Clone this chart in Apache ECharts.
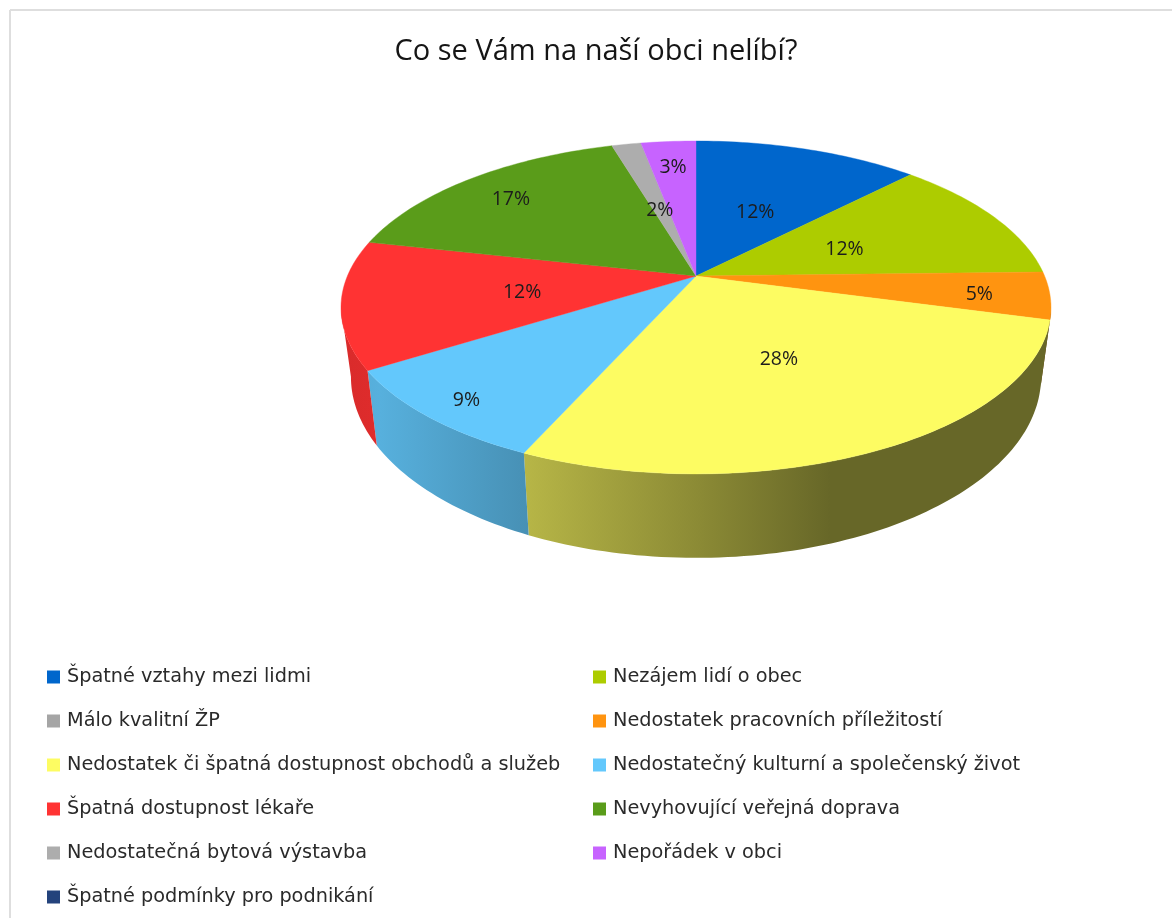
<!DOCTYPE html>
<html><head><meta charset="utf-8">
<style>html,body{margin:0;padding:0;background:#fff}#c{width:1172px;height:918px}</style>
<script src="https://cdn.jsdelivr.net/npm/echarts@6/dist/echarts.min.js"></script>
</head><body><div id="c"></div>
<script>
const titleText = 'Co se Vám na naší obci nelíbí?';
const categories = ['Špatné vztahy mezi lidmi','Nezájem lidí o obec','Málo kvalitní ŽP','Nedostatek pracovních příležitostí','Nedostatek či špatná dostupnost obchodů a služeb','Nedostatečný kulturní a společenský život','Špatná dostupnost lékaře','Nevyhovující veřejná doprava','Nedostatečná bytová výstavba','Nepořádek v obci','Špatné podmínky pro podnikání'];
const shares = [12.3,12.3,0,4.6,27.5,9.4,12.4,16.9,1.6,3.0,0];
const colors = ['#0066cc','#adcc00','#a5a5a5','#ff9410','#fdfc62','#63c8fc','#ff3333','#5a9c1a','#adadad','#c763ff','#24437c'];
const labelDepth = [.53,.5,0,.8,.46,.86,.49,.82,.52,.83,0];

const FONT = '"Open Sans", sans-serif';
const LEGEND_FONT = '"DejaVu Sans", sans-serif';
const CX=696, CY=276, RX=348.6, RY=160.5, K=.189;
const total = shares.reduce((a,b)=>a+b,0);
const starts = shares.map((_,i)=>shares.slice(0,i).reduce((a,b)=>a+b,0)/total*Math.PI*2);
const ends = starts.map((s,i)=>s+shares[i]/total*Math.PI*2);
function rim(t,f){const d=1+K*Math.cos(t);return [CX+f*RX*Math.sin(t)/d, CY-f*RY*Math.cos(t)/d];}
function low(p){return [CX+.972*(p[0]-CX), 42.5+1.0875*p[1]];}
function arc(a,b){const n=Math.max(2,Math.ceil(Math.abs(b-a)/0.02));const o=[];for(let i=0;i<=n;i++)o.push(rim(a+(b-a)*i/n,1));return o;}
const shadeStops=[[340,.85],[380,.88],[520,.73],[700,.55],[830,.41],[1060,.41]];
function sideFill(hex){
  const n=parseInt(hex.slice(1),16),r=n>>16,g=(n>>8)&255,b=n&255;
  const x0=shadeStops[0][0],x1=shadeStops[shadeStops.length-1][0];
  return {type:'linear',global:true,x:x0,y:0,x2:x1,y2:0,colorStops:shadeStops.map(s=>({offset:(s[0]-x0)/(x1-x0),color:`rgb(${r*s[1]|0},${g*s[1]|0},${b*s[1]|0})`}))};
}
const SIDE_FROM=Math.acos(-K), SIDE_TO=2*Math.PI-SIDE_FROM;
const series=[];
series.push({type:'custom',name:'side',coordinateSystem:'none',silent:true,z:1,data:shares.map(v=>[v]),
  renderItem(p){
    const i=p.dataIndex;
    const a=Math.max(starts[i],SIDE_FROM),b=Math.min(ends[i],SIDE_TO);
    if(!(b>a))return null;
    const top=arc(a,b);
    const pts=top.concat(top.slice().reverse().map(low));
    return {type:'polygon',shape:{points:pts},style:{fill:sideFill(colors[i]),stroke:null}};
  }});
categories.forEach((name,i)=>{
  series.push({type:'custom',name,coordinateSystem:'none',silent:true,z:2,
    itemStyle:{color:colors[i]},data:[[shares[i]]],
    renderItem(p,api){
      if(!(api.value(0)>0))return null;
      return {type:'polygon',shape:{points:[[CX,CY]].concat(arc(starts[i],ends[i]))},
        style:{fill:colors[i],stroke:colors[i],lineWidth:.4}};
    }});
});
series.push({type:'custom',name:'labels',coordinateSystem:'none',silent:true,z:3,data:shares.map(v=>[v]),
  renderItem(p,api){
    const i=p.dataIndex,v=api.value(0);
    if(!(v>0))return null;
    const q=rim((starts[i]+ends[i])/2,labelDepth[i]);
    return {type:'text',style:{x:q[0],y:q[1]+3,text:Math.round(v/total*100)+'%',fill:'#1c1c1c',
      font:'19.5px '+FONT,align:'center',verticalAlign:'middle'}};
  }});
const legendBase={orient:'vertical',top:667,itemWidth:13,itemHeight:13,itemGap:24,selectedMode:false,icon:'rect',padding:0,
  textStyle:{fontFamily:LEGEND_FONT,fontSize:19.3,color:'#2a2a2a',lineHeight:20,padding:[0,0,0,2]}};
const option={
  animation:false,backgroundColor:'#fff',
  title:{text:titleText,left:596,top:37,textAlign:'center',padding:0,textStyle:{fontFamily:FONT,fontSize:29,fontWeight:'normal',color:'#151515'}},
  legend:[
    Object.assign({},legendBase,{left:47,data:categories.filter((_,i)=>i%2===0)}),
    Object.assign({},legendBase,{left:593,data:categories.filter((_,i)=>i%2===1)})
  ],
  tooltip:{show:false},
  graphic:[
    {type:'line',shape:{x1:10,y1:10,x2:1172,y2:10},style:{stroke:'#dedede',lineWidth:2},silent:true},
    {type:'line',shape:{x1:10,y1:10,x2:10,y2:918},style:{stroke:'#dedede',lineWidth:2},silent:true}
  ],
  series
};
echarts.init(document.getElementById('c'),null,{renderer:'canvas'}).setOption(option);
</script></body></html>
